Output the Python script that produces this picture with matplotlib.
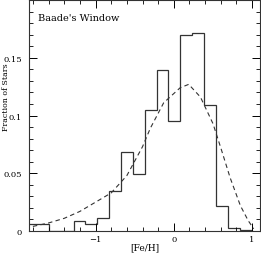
import matplotlib
matplotlib.use("Agg")
import matplotlib.pyplot as plt
from matplotlib.ticker import MultipleLocator

# histogram bin edges and fractions ([Fe/H], Baade's Window)
EDGES = [-1.89, -1.74, -1.59, -1.44, -1.28, -1.13, -0.98, -0.83, -0.67, -0.52,
         -0.37, -0.22, -0.07, 0.08, 0.23, 0.39, 0.54, 0.69, 0.84, 1.0]
FRAC = [0.006, 0.006, 0.0, 0.0, 0.0086, 0.006, 0.0115, 0.0348, 0.068, 0.049,
        0.105, 0.139, 0.0957, 0.170, 0.1716, 0.1095, 0.0218, 0.003, 0.001]

# model curve (dashed)
MOD_X = [-1.8, -1.6, -1.4, -1.2, -1.0, -0.8, -0.6, -0.4, -0.3, -0.13,
         0.08, 0.19, 0.34, 0.5, 0.6, 0.72, 0.85, 0.95, 1.02]
MOD_Y = [0.004, 0.007, 0.011, 0.017, 0.025, 0.033, 0.048, 0.073, 0.089, 0.111,
         0.124, 0.127, 0.116, 0.093, 0.072, 0.046, 0.022, 0.009, 0.002]

plt.rcParams["font.family"] = "DejaVu Serif"
fig = plt.figure(figsize=(2.61, 2.55), dpi=100)
ax = fig.add_axes([0.111, 0.09, 0.885, 0.906])

ax.stairs(FRAC, EDGES, color="#333333", lw=0.9)
ax.plot(MOD_X, MOD_Y, color="#333333", ls=(0, (4, 3)), lw=0.8)

ax.set_xlim(-1.85, 1.1)
ax.set_ylim(0, 0.2)
ax.xaxis.set_major_locator(MultipleLocator(1))
ax.xaxis.set_minor_locator(MultipleLocator(0.2))
ax.yaxis.set_major_locator(MultipleLocator(0.05))
ax.yaxis.set_minor_locator(MultipleLocator(0.01))
ax.set_yticks([0, 0.05, 0.1, 0.15])
ax.set_yticklabels(["0", "0.05", "0.1", "0.15"])
ax.set_xticks([-1, 0, 1])
ax.set_xticklabels(["\u22121", "0", "1"])
ax.tick_params(which="both", direction="in", top=True, right=True, labelsize=6)
ax.tick_params(axis="y", pad=5)
ax.tick_params(axis="x", pad=3)
ax.tick_params(which="major", length=6, width=0.7)
ax.tick_params(which="minor", length=3, width=0.6)
for s in ax.spines.values():
    s.set_linewidth(0.8)
    s.set_color("#333333")

ax.set_xlabel("[Fe/H]", fontsize=6.5, va="center")
ax.xaxis.set_label_coords(0.5, -0.07)
ax.set_ylabel("Fraction of Stars", fontsize=5.6, va="center")
ax.yaxis.set_label_coords(-0.1, 0.585)
ax.text(-1.74, 0.183, "Baade's Window", fontsize=7)

fig.savefig("out.png", dpi=100)
